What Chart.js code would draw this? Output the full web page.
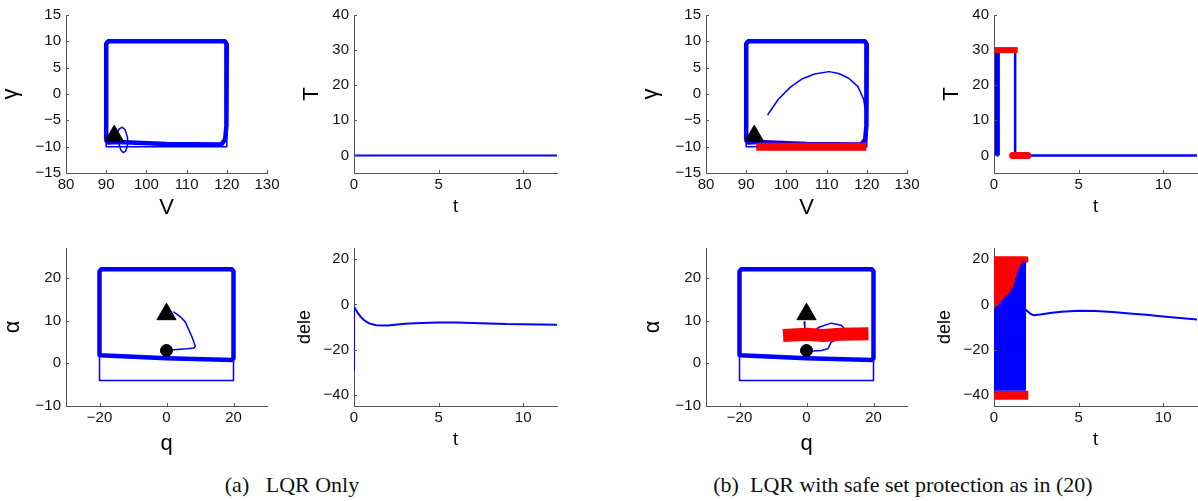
<!DOCTYPE html>
<html>
<head>
<meta charset="utf-8">
<title>LQR vs safe set protection</title>
<style>
  body { margin: 0; background: #fff; width: 1198px; height: 501px; position: relative; overflow: hidden; }
  canvas { position: absolute; }
  .cap { position: absolute; font-family: "Liberation Serif", serif; font-size: 22px; color: #111;
         white-space: pre; transform: translateX(-50%); line-height: 1; }
</style>
</head>
<body>
<div class="cap" style="left:292px; top:474px">(a)   LQR Only</div>
<div class="cap" style="left:903px; top:474px">(b)  LQR with safe set protection as in (20)</div>
<script src="https://cdn.jsdelivr.net/npm/chart.js"></script>
<script>
  // ---- data ([x, y] pairs) ----
  // safe set boxes and the trajectory hugging their edges
  const vgBox = [[90, -10], [120, -10], [120, 10], [90, 10], [90, -10]];
  const vgEdge = [[90.4, -9.2], [90, -8.5], [90, 9.5], [90.5, 10], [119.5, 10], [120, 9.4], [119.9, -6],
                  [119.6, -8.6], [118.6, -9.6], [105, -9.5], [93, -9.1], [90.4, -9.2]];
  const qaBox = [[-20, -4], [20, -4], [20, 22], [-20, 22], [-20, -4]];
  const qaEdge = [[-20, 2], [-20, 21.5], [-19.5, 22], [19.5, 22], [20, 21.5], [20, 1.2], [19.5, 0.8],
                  [0, 1.2], [-20, 1.9]];
  const vgStart = [[92, -8]];
  const qaStart = [[0, 11.5]];
  const qaEnd = [[0, 3]];

  // (a) LQR only
  const lqrVG = [[92, -8], [93.3, -6.6], [94, -6.3], [94.7, -6.8], [95.3, -8.2], [95.3, -9.8], [94.8, -10.9],
                 [94.2, -11.1], [93.6, -10.6], [93.2, -9.5], [93.5, -9.1]];
  const lqrQA = [[2.2, 12], [4, 11], [5.6, 9.7], [7.6, 6.2], [8.6, 4.0], [8.2, 3.6], [6.1, 3.4], [2.2, 3.2], [0, 3]];
  const lqrT = [[0, 0], [12, 0]];
  const lqrDele = [[0, -29], [0, -1.1], [0.2, -3.5], [0.4, -5.5], [0.6, -7], [0.9, -8.4], [1.3, -9.2], [2, -9.3],
                   [3, -8.6], [4, -8.2], [5, -8], [6, -8], [7, -8.2], [8, -8.4], [9, -8.7], [10, -8.8],
                   [11, -8.9], [12, -9]];

  // (b) LQR with safe set protection
  const safeVG = [[95.4, -3.9], [98, -1], [101, 1.3], [104, 2.9], [107, 3.8], [110.6, 4.25], [113, 3.9],
                  [115.5, 3], [117.8, 1.4], [119.2, -1], [119.7, -3.1], [119.9, -5.5], [119.9, -7.5], [119.4, -9.2]];
  const safeVGHit = [[92.5, -10], [119.9, -10]];
  const safeQA = [[-0.7, 9.7], [-0.5, 8.2], [1, 7], [3.9, 8.5], [7.4, 9.4], [10.4, 8.9], [11.8, 7.7], [11.3, 6.3],
                  [7.4, 5], [6.4, 3.4], [4.4, 3], [2, 2.9], [0, 3]];
  const safeQAHit = [[-7, 6.5], [0, 6.8], [5, 6.5], [10, 6.8], [18.5, 6.9]];
  const safeT = [[0.2, 0], [0.2, 30], [1.25, 30], [1.25, 0], [12, 0]];
  const safeTBurst = [[0.2, 0], [0.2, 30]];
  const safeTHitHi = [[0, 30], [1.4, 30]];
  const safeTHitLo = [[1.1, 0], [2, 0]];
  const safeDele = [[1.9, -2.5], [2.1, -3.8], [2.34, -4.8], [2.74, -4.5], [3.43, -3.7], [4, -3.2], [5, -2.8],
                    [6, -2.9], [7, -3.4], [8, -4], [9, -4.6], [10, -5.3], [11, -6], [12, -6.7]];
  const safeDeleTop = [[0, -1.8], [0.3, -0.5], [0.45, 1.5], [0.6, 2.7], [0.8, 4], [0.95, 5], [1.05, 6.4],
                       [1.15, 7.5], [1.25, 10], [1.35, 13], [1.5, 16], [1.65, 18.3], [1.9, 18.5]];
  const safeDeleHitHi = [[0, 21.2], [2.04, 21.2]];
  const safeDeleHitUp = [[0, 21.2], [1.9, 21.2]];
  const safeDeleHitLo = [[0, -38.2], [2.04, -38.2]];

  // tick labels
  const vTicks = [80, 90, 100, 110, 120, 130];
  const gTicks = [-15, -10, -5, 0, 5, 10, 15];
  const tTicks = [0, 5, 10];
  const thrTicks = [0, 10, 20, 30, 40];
  const qTicks = [-20, 0, 20];
  const aTicks = [-10, 0, 10, 20];
  const deleTicks = [-40, -20, 0, 20];

  // ---- helpers ----
  const BLUE = '#0000ff', RED = '#ff0000';
  const pts = arr => arr.map(p => ({ x: p[0], y: p[1] }));

  function line(data, color, width, extra) {
    return Object.assign({ data: pts(data), borderColor: color, borderWidth: width, pointRadius: 0,
      fill: false, borderJoinStyle: 'round', borderCapStyle: 'round' }, extra || {});
  }
  function marker(data, style, r) {
    return { data: pts(data), showLine: false, pointStyle: style, pointRadius: r,
      backgroundColor: '#000', borderColor: '#000', borderWidth: 1 };
  }

  const innerTicks = {
    id: 'innerTicks',
    afterDatasetsDraw(chart) {
      const { ctx, chartArea: a, scales: { x, y } } = chart;
      ctx.save();
      ctx.strokeStyle = '#555';
      ctx.lineWidth = 1;
      ctx.beginPath();
      x.ticks.forEach(t => {
        const px = Math.round(x.getPixelForValue(t.value)) + 0.5;
        ctx.moveTo(px, a.bottom); ctx.lineTo(px, a.bottom - 3);
      });
      y.ticks.forEach(t => {
        const py = Math.round(y.getPixelForValue(t.value)) + 0.5;
        ctx.moveTo(a.left, py); ctx.lineTo(a.left + 3, py);
      });
      ctx.stroke();
      ctx.restore();
    }
  };

  const YW = 66, XH = 55, TOP = 15;

  function axis(min, max, ticks, size, title, tsize, pad, horizontal) {
    return {
      type: 'linear', min: min, max: max,
      afterBuildTicks: s => { s.ticks = ticks.map(v => ({ value: v })); },
      afterFit: s => { if (horizontal) s.height = XH; else s.width = YW; },
      grid: { display: false, drawTicks: false },
      border: { display: true, color: '#555', width: 1 },
      ticks: { font: { family: 'Liberation Sans', size: 15 }, color: '#111', padding: horizontal ? 3 : 5,
               maxRotation: 0, autoSkip: false, callback: v => String(v).replace('-', '\u2212') },
      title: { display: true, text: title, color: '#000', font: { family: 'Liberation Sans', size: tsize, lineHeight: 1 },
               padding: horizontal ? { top: 0, bottom: pad } : { top: pad, bottom: 0 } }
    };
  }

  function panel(box, padR, xs, ys, datasets) {
    const [L, T, R, B] = box;
    const c = document.createElement('canvas');
    const w = R - L + YW + padR, h = B - T + TOP + XH;
    c.width = w; c.height = h;
    c.style.left = (L - YW) + 'px';
    c.style.top = (T - TOP) + 'px';
    document.body.appendChild(c);
    new Chart(c, {
      type: 'line',
      data: { datasets: datasets },
      options: {
        responsive: false, animation: false, events: [],
        layout: { padding: { top: TOP, right: padR, left: 0, bottom: 0 } },
        plugins: { legend: { display: false }, tooltip: { enabled: false } },
        scales: { x: axis(...xs, true), y: axis(...ys, false) }
      },
      plugins: [innerTicks]
    });
  }

  // x title pad = XH - distance - size/2 ; y title pad = YW - distance - size/2
  const xV = [80, 130, vTicks, 15, 'V', 22, 9];
  const yG = [-15, 15, gTicks, 15, '\u03b3', 22, 0];
  const xT = [0, 12, tTicks, 15, 't', 18, 12];
  const yThr = [-5, 40, thrTicks, 15, 'T', 22, 13];
  const xQ = [-30, 30, qTicks, 15, 'q', 22, 6];
  const yA = [-10, 27, aTicks, 15, '\u03b1', 22, 2];
  const yDele = [-45, 25, deleTicks, 15, 'dele', 18, 8];

  // (a)
  panel([66, 15, 267, 173], 22, xV, yG, [
    marker(vgStart, 'triangle', 11),
    line(lqrVG, BLUE, 1.5),
    line(vgEdge, BLUE, 4.5),
    line(vgBox, BLUE, 1.5)
  ]);
  panel([354, 15, 557, 173], 22, xT, yThr, [
    line(lqrT, BLUE, 2)
  ]);
  panel([66, 248, 267, 406], 22, xQ, yA, [
    marker(qaStart, 'triangle', 11),
    marker(qaEnd, 'circle', 6),
    line(lqrQA, BLUE, 1.5),
    line(qaEdge, BLUE, 4.5),
    line(qaBox, BLUE, 1.5)
  ]);
  panel([354, 248, 557, 406], 22, xT, yDele, [
    line(lqrDele, BLUE, 2)
  ]);

  // (b)
  panel([706, 15, 907, 173], 22, xV, yG, [
    marker(vgStart, 'triangle', 11),
    line(safeVGHit, RED, 8, { borderCapStyle: 'butt' }),
    line(safeVG, BLUE, 1.5),
    line(vgEdge, BLUE, 4.5),
    line(vgBox, BLUE, 1.5)
  ]);
  panel([994, 15, 1197, 173], 1, xT, yThr, [
    line(safeTHitHi, RED, 6, { borderCapStyle: 'butt' }),
    line(safeTHitLo, RED, 7),
    line(safeTBurst, BLUE, 5, { borderCapStyle: 'butt' }),
    line(safeT, BLUE, 2.5)
  ]);
  panel([706, 248, 907, 406], 22, xQ, yA, [
    marker(qaStart, 'triangle', 11),
    marker(qaEnd, 'circle', 6),
    line(safeQAHit, RED, 13, { borderCapStyle: 'butt' }),
    line(safeQA, BLUE, 1.5),
    line(qaEdge, BLUE, 4.5),
    line(qaBox, BLUE, 1.5)
  ]);
  panel([994, 248, 1197, 406], 1, xT, yDele, [
    line(safeDele, BLUE, 2),
    line(safeDeleTop, BLUE, 1, { fill: { value: -38.2 }, backgroundColor: BLUE }),
    line(safeDeleHitUp, RED, 0, { fill: { value: -2 }, backgroundColor: RED }),
    line(safeDeleHitHi, RED, 0, { fill: { value: 18.7 }, backgroundColor: RED }),
    line(safeDeleHitLo, RED, 0, { fill: { value: -42.2 }, backgroundColor: RED })
  ]);
</script>
</body>
</html>
